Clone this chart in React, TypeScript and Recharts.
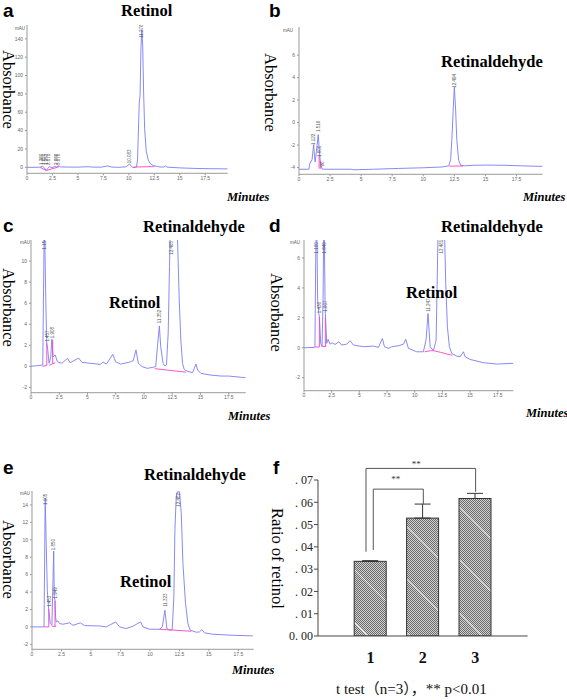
import React from 'react';
import {
  ComposedChart,
  Line,
  Scatter,
  XAxis,
  YAxis,
  Bar,
  ErrorBar,
  ReferenceLine,
  ReferenceDot,
} from 'recharts';

type Pt = [number, number];
type PeakTag = [number, number, string];

const SERIF = '"Liberation Serif", "Times New Roman", serif';
const SANS = '"Liberation Sans", Arial, sans-serif';
const CAPTION_FONT = '"Liberation Serif", "Times New Roman", "Noto Sans CJK SC", serif';

const minuteTicks = [0, 2.5, 5, 7.5, 10, 12.5, 15, 17.5];

// ---------- panel a : Retinol standard ----------
const traceA: Pt[] = [
  [0, 0], [1.0, 0], [1.35, 0.3], [1.5, 1.5], [1.68, -0.5], [1.9, -3.2], [2.05, -1.0], [2.2, 0.8],
  [2.45, -0.5], [2.7, 1.0], [2.9, 0.3], [3.1, 1.8], [3.3, 0.4], [4.0, 0.3], [5.0, 0.2], [6.0, 0.7],
  [6.5, 0.2], [7.3, 0.2], [7.9, 1.5], [8.3, 0.3], [9.0, 0.0], [9.7, 0.5], [10.08, 3.6], [10.3, 0.5],
  [10.5, -0.4], [10.75, 0.5], [10.85, 8], [10.95, 45], [11.02, 70], [11.1, 78], [11.18, 128],
  [11.27, 150], [11.36, 132], [11.45, 80], [11.55, 42], [11.7, 18], [11.9, 8], [12.1, 4], [12.4, 2],
  [12.8, 0.8], [13.2, 0.3], [13.45, 0.4], [13.58, 1.5], [13.75, 0.2], [15.0, -0.6], [16.5, -1.2],
  [18.0, -1.5], [19.7, -1.7],
];
const baseA: Pt[][] = [
  [[1.3, 0], [1.9, -3.5], [3.15, 0.7]],
  [[10.45, 0.3], [12.5, 0.8]],
];
const peaksA: PeakTag[] = [
  [1.42, 2.5, '1.380'], [1.62, 2.5, '1.651'], [1.88, 2.5, '1.953'], [2.12, 2.5, '2.171'],
  [2.88, 2.5, '2.888'], [3.1, 2.5, '3.070'], [10.08, 4.5, '10.083'], [11.27, 141, '11.276'],
];

// ---------- panel b : Retinaldehyde standard ----------
const traceB: Pt[] = [
  [0, -4.15], [0.8, -4.15], [0.85, -3.7], [0.95, -3.5], [1.05, -3.3], [1.18, -1.95], [1.25, -3.0],
  [1.3, -3.5], [1.4, -2.6], [1.55, -1.07], [1.65, -2.8], [1.72, -3.5], [1.85, -4.12], [2.0, -4.15],
  [4.2, -4.15], [4.4, -4.2], [6.0, -4.15], [8.0, -4.08], [10.0, -4.02], [11.5, -3.95], [12.05, -3.85],
  [12.2, -3.3], [12.3, -1.5], [12.4, 1.0], [12.5, 3.15], [12.6, 1.2], [12.7, -1.6], [12.85, -3.35],
  [13.0, -3.78], [13.3, -3.85], [14.0, -3.8], [15.0, -3.78], [16.5, -3.8], [18.0, -3.85], [19.6, -3.9],
];
const baseB: Pt[][] = [
  [[1.62, -4.1], [1.62, -2.9]],
  [[1.72, -4.1], [1.72, -3.4]],
  [[12.1, -3.88], [13.2, -3.86]],
];
const peaksB: PeakTag[] = [
  [1.18, -2.0, '1.122'], [1.55, -0.84, '1.516'], [1.68, -3.07, '1.600'], [1.86, -3.9, '96'],
  [12.5, 3.1, '12.494'],
];

// ---------- panel c ----------
const traceC: Pt[] = [
  [0, 0], [1.04, 0.13], [1.1, 6.3], [1.17, 12.8], [1.22, 11.9], [1.31, 6.3], [1.39, 2.2], [1.48, 1.6],
  [1.6, 0.29], [1.75, 0.9], [1.84, 2.57], [1.96, 0.9], [2.14, 1.08], [2.34, 0.44], [2.73, 0.29],
  [3.23, 0.76], [3.47, 0.35], [4.21, 0.79], [4.51, 0.38], [5.25, 0.29], [6.14, 0.19], [6.38, 0.41],
  [6.68, 0.22], [7.24, 1.14], [7.48, 0.44], [7.92, 0.22], [8.66, 0.38], [9.05, 0.54], [9.29, 1.56],
  [9.5, 0.29], [9.85, -0.03], [10.3, -0.19], [10.74, -0.1], [11.04, -0.03], [11.19, 1.87],
  [11.36, 3.84], [11.48, 1.87], [11.69, 0.29], [11.84, 0.03], [11.99, 0.13], [12.14, 3.14],
  [12.26, 9.5], [12.45, 20], [12.8, 18], [12.97, 12], [13.12, 6.3], [13.26, 2.5], [13.41, 0.29],
  [13.56, -0.29], [13.71, -0.41], [14.3, -0.6], [14.45, -0.19], [14.6, 0.22], [14.75, -0.35],
  [15.04, -0.67], [15.93, -0.83], [16.82, -0.92], [17.5, -0.92], [19.0, -1.08],
];
const baseC: Pt[][] = [
  [[1.0, 0.0], [1.4, 0.1]],
  [[1.4, 0.1], [1.4, 2.2]],
  [[1.6, 0.1], [2.15, 0.35]],
  [[1.92, 0.25], [1.92, 2.5]],
  [[10.95, -0.22], [13.7, -0.55]],
];
const peaksC: PeakTag[] = [
  [1.17, 11.1, '1.154'], [1.42, 2.35, '1.457'], [1.87, 2.67, '1.908'], [11.37, 4.1, '11.352'],
  [12.45, 10.6, '12.465'],
];

// ---------- panel d ----------
const traceD: Pt[] = [
  [0, 0], [0.93, 0.02], [0.99, 0.07], [1.05, 5.4], [1.12, 9], [1.17, 7.2], [1.23, 3.2], [1.33, 2.3],
  [1.39, 2.07], [1.51, 0.29], [1.63, 0.07], [1.72, 3.2], [1.81, 10], [1.84, 7.2], [1.9, 3.2],
  [1.93, 2.29], [2.05, 0.29], [2.17, 0.56], [2.35, 0.24], [2.53, 0.33], [2.8, 0.22], [3.16, 0.4],
  [3.4, 0.18], [3.86, 0.24], [4.16, 0.47], [4.46, 0.18], [5.36, 0.07], [6.27, 0.11], [6.72, 0.02],
  [7.08, 0.62], [7.26, 0.07], [7.62, -0.04], [7.92, 0.07], [8.52, 0.13], [8.98, 0.24], [9.19, 0.56],
  [9.43, -0.04], [10.18, -0.27], [10.78, -0.27], [11.02, 0.51], [11.2, 2.29], [11.39, 0.07],
  [11.69, -0.2], [11.93, 0.51], [12.05, 5.4], [12.4, 20], [12.65, 9], [12.8, 4.29], [12.95, 1.4],
  [13.13, 0.07], [13.34, -0.38], [13.8, -0.56], [14.1, -0.6], [14.4, -0.27], [14.55, -0.6],
  [15.0, -0.78], [16.2, -1.0], [17.4, -1.09], [18.9, -1.04],
];
const baseD: Pt[][] = [
  [[0.95, 0.05], [1.39, 0.05]],
  [[1.39, 0.05], [1.39, 2.07]],
  [[1.65, 0.07], [2.0, 0.1]],
  [[1.93, 0.07], [1.93, 2.0]],
  [[10.9, -0.27], [11.4, -0.2], [11.7, -0.2], [12.3, -0.3], [12.9, -0.42], [13.4, -0.5]],
];
const peaksD: PeakTag[] = [
  [1.1, 6.3, '1.100'], [1.38, 2.3, '1.436'], [1.8, 6.3, '1.849'], [1.93, 2.4, '1.907'],
  [11.2, 2.4, '11.247'], [12.4, 6.3, '12.461'],
];

// ---------- panel e ----------
const traceE: Pt[] = [
  [0, 0], [0.99, 0], [1.02, 0.08], [1.12, 14.8], [1.21, 9.2], [1.3, 4.2], [1.41, 2.1], [1.55, 0.38],
  [1.69, 0.19], [1.78, 5.35], [1.84, 8.7], [1.89, 3.44], [1.95, 3.06], [2.0, 1.15], [2.06, 0.57],
  [2.2, 0.69], [2.34, 0.38], [2.63, 0.31], [3.19, 0.46], [3.47, 0.19], [4.1, 0.46], [4.46, 0.15],
  [5.73, 0.11], [6.3, 0], [7.09, 0.57], [7.43, 0], [7.99, -0.19], [8.56, 0.08], [9.21, 0.57],
  [9.41, 0], [9.97, -0.27], [10.82, -0.27], [11.05, 0], [11.27, 1.91], [11.44, -0.19], [11.67, -0.38],
  [11.89, -0.31], [12.03, 3.44], [12.12, 11.1], [12.23, 14.9], [12.32, 15.5], [12.51, 15.5],
  [12.66, 13.0], [12.8, 7.27], [13.02, 2.68], [13.22, 0.38], [13.42, -0.38], [13.93, -0.61],
  [14.21, -0.57], [14.41, -0.31], [14.63, -0.69], [15.34, -0.84], [17.03, -0.96], [18.73, -1.03],
];
const baseE: Pt[][] = [
  [[1.0, 0.0], [1.42, 0.0]],
  [[1.42, 0.0], [1.42, 2.1]],
  [[1.7, 0.05], [2.05, 0.1]],
  [[1.95, 0.05], [1.95, 3.0]],
  [[10.8, -0.27], [13.5, -0.5]],
];
const peaksE: PeakTag[] = [
  [1.12, 14.0, '1.105'], [1.45, 2.3, '1.453'], [1.84, 8.8, '1.850'], [1.97, 3.26, '1.949'],
  [11.28, 2.3, '11.323'], [12.45, 13.8, '12.482'],
];

// ---------- panel f : ratio of retinol ----------
const groups = [1, 2, 3];
const ratioValues = [0.0335, 0.0529, 0.0617];
const ratioErrors = [0.0003, 0.0063, 0.0023];
const ratioTicks = [0, 0.01, 0.02, 0.03, 0.04, 0.05, 0.06, 0.07];
const ratioTickLabels = ['0. 00', '. 01', '. 02', '. 03', '. 04', '. 05', '. 06', '. 07'];
// brackets: [left x, right x, top y, left foot y, right foot y]
const brackets: [number, number, number, number, number][] = [
  [0.916, 3.008, 0.0752, 0.0378, 0.0647],
  [1.055, 2.01, 0.0659, 0.0386, 0.0592],
];
const stars: [number, number, string][] = [
  [1.876, 0.0771, '**'],
  [1.485, 0.0707, '**'],
];

const LINE_COLOR = '#7c7cf6';
const PINK = '#ff3fc4';

const toRows = (pts: Pt[]) => pts.map(([t, v]) => ({ t, v }));

const PeakLabel = (p: any) => {
  const { cx, cy, payload } = p;
  if (cx == null || cy == null) return null;
  return (
    <text
      transform={`translate(${cx + 1.6},${cy}) rotate(-90)`}
      fontSize={4.5}
      fill="#555"
      fontFamily={SANS}
    >
      {payload.label}
    </text>
  );
};

type ChromProps = {
  rect: { x0: number; x1: number; y0: number; y1: number };
  xMax: number;
  yDomain: [number, number];
  yTicks: number[];
  trace: Pt[];
  baselines: Pt[][];
  peaks: PeakTag[];
};

function Chromatogram({ rect, xMax, yDomain, yTicks, trace, baselines, peaks }: ChromProps) {
  const ML = 22;
  const MR = 4;
  const MT = 4;
  const MB = 12;
  const w = rect.x1 - rect.x0 + ML + MR;
  const h = rect.y1 - rect.y0 + MT + MB;
  const tickStyle = { fontSize: 5, fill: '#666', fontFamily: SANS };
  return (
    <div style={{ position: 'absolute', left: rect.x0 - ML, top: rect.y0 - MT }}>
      <ComposedChart width={w} height={h} margin={{ top: MT, right: MR, left: 0, bottom: 0 }}>
        <XAxis
          type="number"
          dataKey="t"
          domain={[0, xMax]}
          ticks={minuteTicks}
          interval={0}
          allowDataOverflow
          height={MB}
          tickSize={2}
          tickMargin={1}
          tick={tickStyle}
          stroke="#9a9a9a"
        />
        <YAxis
          type="number"
          dataKey="v"
          domain={yDomain}
          ticks={yTicks}
          interval={0}
          allowDataOverflow
          width={ML}
          tickSize={2}
          tickMargin={2}
          tick={tickStyle}
          stroke="#9a9a9a"
        />
        <Line
          data={toRows(trace)}
          dataKey="v"
          type="linear"
          stroke={LINE_COLOR}
          strokeWidth={0.9}
          dot={false}
          isAnimationActive={false}
        />
        {baselines.map((b, i) => (
          <Line
            key={i}
            data={toRows(b)}
            dataKey="v"
            type="linear"
            stroke={PINK}
            strokeWidth={0.9}
            dot={false}
            isAnimationActive={false}
          />
        ))}
        <Scatter
          data={peaks.map(([t, v, label]) => ({ t, v, label }))}
          dataKey="v"
          shape={PeakLabel}
          isAnimationActive={false}
        />
      </ComposedChart>
    </div>
  );
}

function HatchBar(props: any) {
  const { x, y, width, height } = props;
  if (!height || height <= 0) return null;
  const lines: React.ReactNode[] = [];
  const period = 53;
  const off = 8;
  for (let k = 0; k < 10; k++) {
    const ly = y + off + k * period;
    if (ly >= y + height) break;
    const run = Math.min(width, y + height - ly);
    lines.push(
      <line key={k} x1={x} y1={ly} x2={x + run} y2={ly + run} stroke="#ffffff" strokeWidth={1} />
    );
  }
  return (
    <g>
      <rect x={x} y={y} width={width} height={height} fill="url(#dotfill)" />
      {lines}
      <rect x={x} y={y} width={width} height={height} fill="none" stroke="#333" strokeWidth={1} />
    </g>
  );
}

function RatioChart() {
  const x0 = 317.7, x1 = 527.3, y0 = 480, y1 = 636;
  const ML = 36, MR = 12, MT = 22, MB = 32;
  const w = x1 - x0 + ML + MR;
  const h = y1 - y0 + MT + MB;
  const data = groups.map((c, i) => ({ c, v: ratioValues[i], err: [0, ratioErrors[i]] }));
  return (
    <div style={{ position: 'absolute', left: x0 - ML, top: y0 - MT }}>
      <ComposedChart width={w} height={h} data={data} margin={{ top: MT, right: MR, left: 0, bottom: 0 }}>
        <XAxis
          type="number"
          dataKey="c"
          domain={[0, 4]}
          ticks={groups}
          interval={0}
          height={MB}
          tickLine={false}
          tickSize={6}
          tickMargin={10}
          tick={{ fontSize: 16, fontWeight: 'bold', fill: '#111', fontFamily: SERIF }}
          stroke="#444"
        />
        <YAxis
          type="number"
          domain={[0, 0.07]}
          ticks={ratioTicks}
          interval={0}
          allowDataOverflow
          width={ML}
          tickSize={4}
          tickMargin={1}
          tickFormatter={(v: number) => ratioTickLabels[ratioTicks.findIndex((t) => Math.abs(t - v) < 1e-9)] ?? ''}
          tick={{ fontSize: 12, fill: '#222', fontFamily: SERIF }}
          stroke="#444"
        />
        <Bar dataKey="v" barSize={32} shape={HatchBar} isAnimationActive={false}>
          <ErrorBar dataKey="err" width={8} stroke="#333" strokeWidth={1} direction="y" />
        </Bar>
        {brackets.map(([a, b, top, lf, rf], i) => (
          <ReferenceLine
            key={`l${i}`}
            segment={[{ x: a, y: lf }, { x: a, y: top }]}
            stroke="#555"
            strokeWidth={1}
            ifOverflow="visible"
          />
        ))}
        {brackets.map(([a, b, top], i) => (
          <ReferenceLine
            key={`t${i}`}
            segment={[{ x: a, y: top }, { x: b, y: top }]}
            stroke="#555"
            strokeWidth={1}
            ifOverflow="visible"
          />
        ))}
        {brackets.map(([a, b, top, lf, rf], i) => (
          <ReferenceLine
            key={`r${i}`}
            segment={[{ x: b, y: top }, { x: b, y: rf }]}
            stroke="#555"
            strokeWidth={1}
            ifOverflow="visible"
          />
        ))}
        {stars.map(([sx, sy, txt], i) => (
          <ReferenceDot
            key={`s${i}`}
            x={sx}
            y={sy}
            r={0}
            ifOverflow="visible"
            stroke="none"
            fill="none"
            label={{ value: txt, position: 'center', fontSize: 9, fill: '#333', fontFamily: SERIF }}
          />
        ))}
      </ComposedChart>
    </div>
  );
}

const panelLetters: [string, number, number][] = [
  ['a', 3, 17], ['b', 269, 17], ['c', 3, 232], ['d', 269, 232], ['e', 3, 474], ['f', 273, 474],
];
const compoundLabels: [string, number, number][] = [
  ['Retinol', 121, 16],
  ['Retinaldehyde', 441, 67],
  ['Retinaldehyde', 143, 231.5],
  ['Retinol', 109, 307.5],
  ['Retinaldehyde', 441, 231.5],
  ['Retinol', 406, 298],
  ['Retinaldehyde', 144, 480],
  ['Retinol', 120, 587],
];
const yTitles: [string, number, number][] = [
  ['Absorbance', 2.5, 50],
  ['Absorbance', 265, 53],
  ['Absorbance', 2.5, 268],
  ['Absorbance', 271, 273],
  ['Absorbance', 2.5, 520],
  ['Ratio of retinol', 272, 508],
];
const minuteLabels: [number, number][] = [
  [227, 200.5], [523, 200.5], [228, 420], [526, 416.5], [232, 674],
];
const mauLabels: [number, number][] = [
  [15, 29.5], [283, 31.5], [20, 244], [290, 244], [20, 495],
];

export default function App() {
  return (
    <div style={{ position: 'absolute', left: 0, top: 0, width: 567, height: 700, background: '#fff', overflow: 'hidden' }}>
      <svg width={0} height={0} style={{ position: 'absolute' }}>
        <defs>
          <pattern id="dotfill" width={2} height={2} patternUnits="userSpaceOnUse">
            <rect width={2} height={2} fill="#d2d2d2" />
            <rect x={0} y={0} width={1} height={1} fill="#6a6a6a" />
            <rect x={1} y={1} width={1} height={1} fill="#6a6a6a" />
          </pattern>
        </defs>
      </svg>

      <Chromatogram
        rect={{ x0: 27.3, x1: 228, y0: 25, y1: 173.3 }}
        xMax={19.7}
        yDomain={[-6.5, 155]}
        yTicks={[0, 20, 40, 60, 80, 100, 120, 140]}
        trace={traceA}
        baselines={baseA}
        peaks={peaksA}
      />
      <Chromatogram
        rect={{ x0: 298.7, x1: 542.3, y0: 26.7, y1: 174 }}
        xMax={19.6}
        yDomain={[-4.6, 8.5]}
        yTicks={[-4, -2, 0, 2, 4, 6]}
        trace={traceB}
        baselines={baseB}
        peaks={peaksB}
      />
      <Chromatogram
        rect={{ x0: 31, x1: 245.7, y0: 240, y1: 392.7 }}
        xMax={19.0}
        yDomain={[-2.5, 12.0]}
        yTicks={[-2, 0, 2, 4, 6, 8, 10]}
        trace={traceC}
        baselines={baseC}
        peaks={peaksC}
      />
      <Chromatogram
        rect={{ x0: 303.7, x1: 513, y0: 240, y1: 390.7 }}
        xMax={18.9}
        yDomain={[-2.87, 7.2]}
        yTicks={[-2, 0, 2, 4, 6]}
        trace={traceD}
        baselines={baseD}
        peaks={peaksD}
      />
      <Chromatogram
        rect={{ x0: 32.3, x1: 254, y0: 491, y1: 649.3 }}
        xMax={18.8}
        yDomain={[-2.57, 15.6]}
        yTicks={[-2, 0, 2, 4, 6, 8, 10, 12, 14]}
        trace={traceE}
        baselines={baseE}
        peaks={peaksE}
      />
      <RatioChart />

      <svg
        width={567}
        height={700}
        style={{ position: 'absolute', left: 0, top: 0, pointerEvents: 'none' }}
      >
        {panelLetters.map(([t, x, y]) => (
          <text key={t} x={x} y={y} fontFamily={SANS} fontWeight="bold" fontSize={19} fill="#000">
            {t}
          </text>
        ))}
        {compoundLabels.map(([t, x, y], i) => (
          <text key={i} x={x} y={y} fontFamily={SERIF} fontWeight="bold" fontSize={16.5} fill="#000">
            {t}
          </text>
        ))}
        {yTitles.map(([t, x, y], i) => (
          <text
            key={i}
            transform={`translate(${x},${y}) rotate(90)`}
            fontFamily={SERIF}
            fontSize={16.5}
            fill="#000"
          >
            {t}
          </text>
        ))}
        {minuteLabels.map(([x, y], i) => (
          <text
            key={i}
            x={x}
            y={y}
            fontFamily={SERIF}
            fontWeight="bold"
            fontStyle="italic"
            fontSize={12.5}
            fill="#000"
          >
            Minutes
          </text>
        ))}
        {mauLabels.map(([x, y], i) => (
          <text key={i} x={x} y={y} fontFamily={SANS} fontSize={4.5} fill="#555">
            mAU
          </text>
        ))}
        <text x={336} y={693.5} fontFamily={CAPTION_FONT} fontSize={15} fill="#111">
          t test（n=3），** p&lt;0.01
        </text>
      </svg>
    </div>
  );
}
